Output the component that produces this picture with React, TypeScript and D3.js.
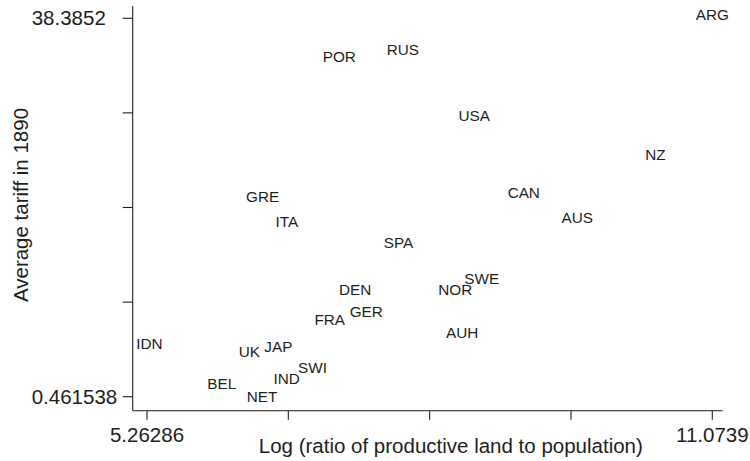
import React from "react";
import * as d3 from "d3";

const countries = ["ARG","POR","RUS","USA","NZ","CAN","AUS","SWE","NOR","AUH","GRE","ITA","SPA","DEN","GER","FRA","IDN","UK","JAP","SWI","IND","BEL","NET"];
const landRatio = [11.0739,7.240,7.893,8.626,10.490,9.136,9.685,8.704,8.432,8.503,6.452,6.700,7.848,7.403,7.517,7.141,5.288,6.314,6.613,6.964,6.699,6.031,6.445];
const tariff = [38.72,34.54,35.28,28.61,24.74,20.90,18.39,12.28,11.21,6.87,20.51,17.99,15.90,11.24,8.97,8.20,5.84,4.99,5.49,3.39,2.27,1.81,0.461538];

const xTicks = [5.26286, 6.71562, 8.16838, 9.62114, 11.0739];
const xTickLabels = ["5.26286", "", "", "", "11.0739"];
const yTicks = [0.461538, 9.942954, 19.42437, 28.90578, 38.3852];
const yTickLabels = ["0.461538", "", "", "", "38.3852"];

const xTitle = "Log (ratio of productive land to population)";
const yTitle = "Average tariff in 1890";

const W = 750, H = 461;
const FONT = "'Liberation Sans', Arial, Helvetica, sans-serif";
const INK = "#1e1e1e";

export default function App() {
  const x = d3.scaleLinear().domain([5.26286, 11.0739]).range([147, 712.3]);
  const y = d3.scaleLinear().domain([0.461538, 38.3852]).range([396.7, 18.3]);
  const axisLeft = 132.7, axisBottom = 410.7, axisRight = 722.7, axisTop = 6;
  const labelFs = 15.3, axisFs = 20.5;

  return (
    <svg width={W} height={H} style={{ position: "absolute", left: 0, top: 0, background: "#fff" }} fontFamily={FONT}>
      <rect x={0} y={0} width={W} height={H} fill="#fff" />
      {/* axes lines */}
      <line x1={axisLeft} x2={axisLeft} y1={axisTop} y2={axisBottom} stroke={INK} strokeWidth={1.1} />
      <line x1={axisLeft} x2={axisRight} y1={axisBottom} y2={axisBottom} stroke={INK} strokeWidth={1.1} />
      {/* y ticks */}
      {yTicks.map((t, i) => (
        <g key={"yt" + i}>
          <line x1={axisLeft - 10} x2={axisLeft} y1={y(t)} y2={y(t)} stroke={INK} strokeWidth={1.1} />
          {yTickLabels[i] && (
            <text x={31.7} y={y(t) + 0.345 * axisFs} fontSize={axisFs} fill={INK} textAnchor="start">
              {yTickLabels[i]}
            </text>
          )}
        </g>
      ))}
      {/* x ticks */}
      {xTicks.map((t, i) => (
        <g key={"xt" + i}>
          <line x1={x(t)} x2={x(t)} y1={axisBottom} y2={axisBottom + 9} stroke={INK} strokeWidth={1.1} />
          {xTickLabels[i] && (
            <text x={x(t)} y={442.2} fontSize={axisFs} fill={INK} textAnchor="middle">
              {xTickLabels[i]}
            </text>
          )}
        </g>
      ))}
      {/* titles */}
      <text x={450.8} y={452.7} fontSize={axisFs} fill={INK} textAnchor="middle">{xTitle}</text>
      <text transform={`translate(28.3,205) rotate(-90)`} fontSize={axisFs} fill={INK} textAnchor="middle">{yTitle}</text>
      {/* marker labels */}
      {countries.map((c, i) => (
        <text key={c} x={x(landRatio[i])} y={y(tariff[i]) + 0.36 * labelFs} fontSize={labelFs} fill={INK} textAnchor="middle">
          {c}
        </text>
      ))}
    </svg>
  );
}
